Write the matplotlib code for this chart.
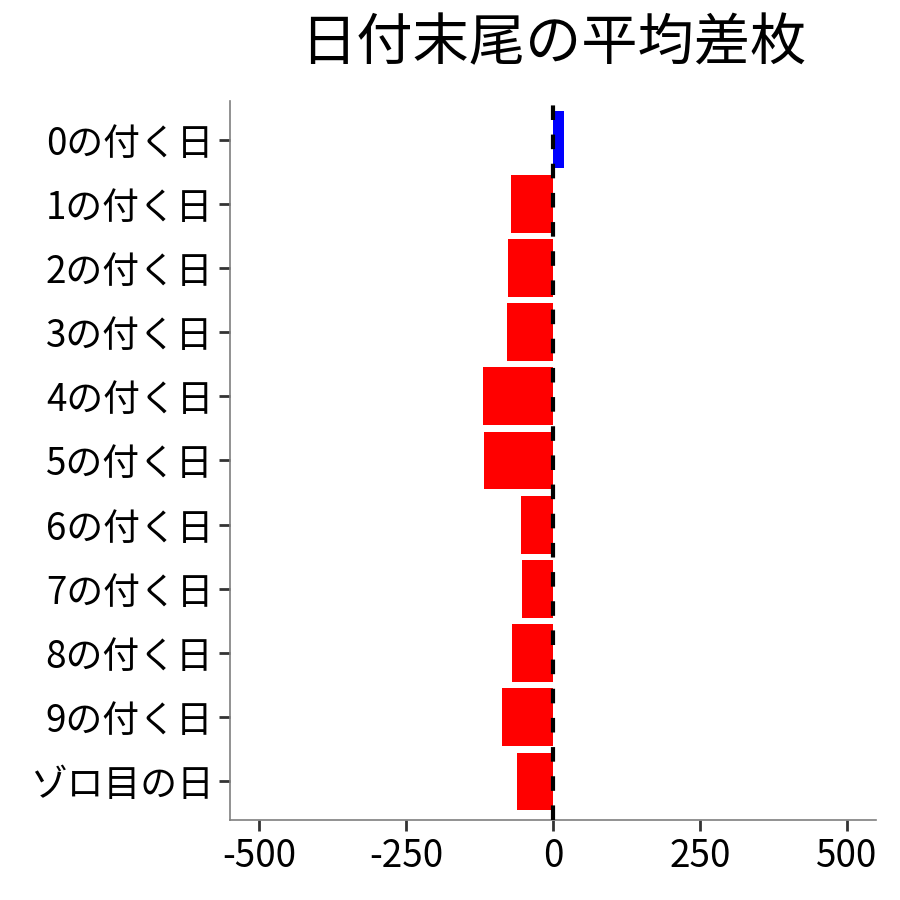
import matplotlib
matplotlib.use("Agg")
import matplotlib.pyplot as plt

plt.rcParams['font.family'] = ['Noto Sans CJK JP', 'DejaVu Sans']

categories = ["0の付く日", "1の付く日", "2の付く日", "3の付く日", "4の付く日",
              "5の付く日", "6の付く日", "7の付く日", "8の付く日", "9の付く日", "ゾロ目の日"]
values = [18, -72, -77, -78, -120, -118, -55, -52, -69, -87, -62]
xticks = [-500, -250, 0, 250, 500]
xticklabels = ["-500", "-250", "0", "250", "500"]
title = "日付末尾の平均差枚"

fig = plt.figure(figsize=(9, 9), dpi=100)
ax = fig.add_axes([230/900, 1-820/900, (876-230)/900, (820-101)/900])

n = len(categories)
ypos = list(range(n))
colors = ['#0000FF' if v > 0 else '#FF0000' for v in values]
ax.barh(ypos, values, height=0.9, color=colors, zorder=2)
ax.axvline(0, color='black', linestyle=(0, (3.5, 3.5)), linewidth=3, zorder=3)

ax.set_ylim(n - 0.4, -0.6)
ax.set_xlim(-550, 550)
ax.set_yticks(ypos)
ax.set_yticklabels(categories)
ax.set_xticks(xticks)
ax.set_xticklabels(xticklabels)

for s in ['top', 'right']:
    ax.spines[s].set_visible(False)
for s in ['left', 'bottom']:
    ax.spines[s].set_color('#7f7f7f')
    ax.spines[s].set_linewidth(1.2)

ax.tick_params(axis='both', length=8, width=2, color='#333333', labelsize=26.5,
               labelcolor='black', pad=4)

fig.suptitle(title, fontsize=40.5, x=(230+876)/2/900, y=1-16/900, va='top')

fig.savefig("out.png", dpi=100, facecolor='white')
